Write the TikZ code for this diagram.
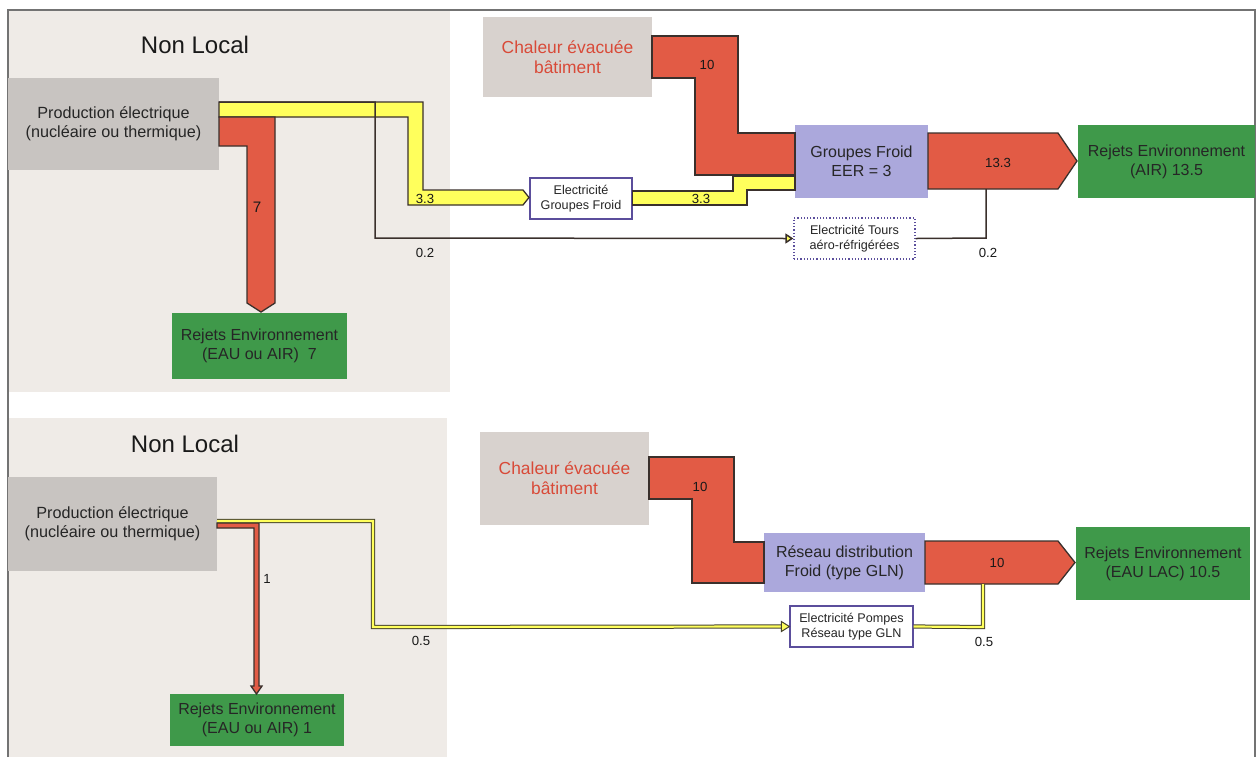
\documentclass[tikz,border=0pt]{standalone}
\usepackage{fontspec}
\setmainfont{Liberation Sans}
\usetikzlibrary{arrows.meta}

\definecolor{panelbg}{HTML}{EFEBE7}
\definecolor{prodgrey}{HTML}{C8C4C1}
\definecolor{chalgrey}{HTML}{D8D2CE}
\definecolor{flowred}{HTML}{E25B45}
\definecolor{flowyellow}{HTML}{FFFF5C}
\definecolor{coolpurple}{HTML}{ABA8DC}
\definecolor{rejgreen}{HTML}{3F994A}
\definecolor{edgedark}{HTML}{3A302C}
\definecolor{chaltext}{HTML}{D84A38}
\definecolor{boxline}{HTML}{5B4E9C}

\begin{document}
\begin{tikzpicture}[x=0.5pt, y=-0.5pt,
  box/.style={inner sep=0pt, align=center, text=black!85},
  prodbox/.style={box, fill=prodgrey, font=\fontsize{8.1}{9.5}\selectfont},
  chalbox/.style={box, fill=chalgrey, text=chaltext, font=\fontsize{8.7}{10}\selectfont},
  coolbox/.style={box, fill=coolpurple, font=\fontsize{8}{9.5}\selectfont},
  rejbox/.style={box, fill=rejgreen, font=\fontsize{8}{9.5}\selectfont},
  elecbox/.style={box, fill=white, draw=boxline, line width=0.6pt, font=\fontsize{6.3}{7.3}\selectfont},
  title/.style={font=\fontsize{12}{14}\selectfont, text=black!90},
  val/.style={font=\fontsize{6.6}{8}\selectfont, text=black!90},
  redflow/.style={fill=flowred, draw=edgedark, line width=0.65pt, line join=miter},
  yelflow/.style={fill=flowyellow, draw=edgedark, line width=0.65pt, line join=miter},
  tourline/.style={draw=edgedark, line width=0.75pt, -{Triangle[fill=flowyellow, length=4pt, width=5pt]}},
  pompline/.style={draw=black!65!olive, double=flowyellow, double distance=1.1pt, line width=0.5pt},
]
  \useasboundingbox (0,0) rectangle (1257,757);
  \fill[white] (0,0) rectangle (1257,757);

  % Panels and frame
  \fill[panelbg] (8,10) rectangle (450,392);
  \fill[panelbg] (8,418) rectangle (447,757);
  \draw[black!55, line width=0.6pt] (8,757) -- (8,10) -- (1255,10) -- (1255,757);

  % ---- Top: Groupes Froid ----
  \node[title] (nl1) at (195,45) {Non Local};
  \node[prodbox, minimum width=105.5pt, minimum height=46pt] (prod1) at (113.5,124)
    {Production électrique\\(nucléaire ou thermique)};
  \node[chalbox, minimum width=84.5pt, minimum height=40pt] (chal1) at (567.5,57)
    {Chaleur évacuée\\bâtiment};
  \node[coolbox, minimum width=66.5pt, minimum height=36.5pt] (gf) at (861.5,161.5)
    {Groupes Froid\\EER = 3};
  \node[rejbox, minimum width=88.5pt, minimum height=36.5pt] (rejair) at (1166.5,161.5)
    {Rejets Environnement\\(AIR) 13.5};
  \node[rejbox, minimum width=87.5pt, minimum height=33pt] (rejeau1) at (259.5,346)
    {Rejets Environnement\\(EAU ou AIR)\ \ 7};
  \node[elecbox, minimum width=51pt, minimum height=20.5pt] (egf) at (581,198.5)
    {Electricité\\Groupes Froid};
  \node[elecbox, densely dotted, minimum width=60.5pt, minimum height=20.5pt] (etours) at (854.5,238.5)
    {Electricité Tours\\aéro-réfrigérées};

  % flows
  \draw[yelflow] (219,102) -- (423,102) -- (423,190) -- (523,190) -- (529,197.5)
    -- (523,205) -- (408,205) -- (408,117) -- (219,117) -- cycle;
  \draw[redflow] (219,117) -- (275,117) -- (275,303) -- (261,312) -- (247,303)
    -- (247,146) -- (219,146) -- cycle;
  \draw[tourline] (219,102) -- (375,102) -- (375,238) -- (etours.west);
  \draw[yelflow] (egf.east |- 0,191) -- (733,191) -- (733,176) -- (795,176)
    -- (795,190) -- (747,190) -- (747,205) -- (egf.east |- 0,205) -- cycle;
  \draw[redflow] (652,36) -- (738,36) -- (738,133) -- (795,133) -- (795,175)
    -- (695,175) -- (695,78) -- (652,78) -- cycle;
  \draw[redflow] (928,133) -- (1058,133) -- (1077,161) -- (1058,189) -- (928,189) -- cycle;
  \draw[draw=edgedark, line width=0.75pt] (etours.east) -- (986,238) -- (986,189);

  \node[val, font=\fontsize{7.6}{9}\selectfont] (v7) at (257,207) {7};
  \node[val] (v33a) at (425,199) {3.3};
  \node[val] (v33b) at (701,199) {3.3};
  \node[val] (v02a) at (425,253) {0.2};
  \node[val] (v10a) at (707,65) {10};
  \node[val] (v133) at (998,163) {13.3};
  \node[val] (v02b) at (988,253) {0.2};

  % ---- Bottom: Reseau GLN ----
  \node[title] (nl2) at (185,444) {Non Local};
  \node[prodbox, minimum width=104.5pt, minimum height=47pt] (prod2) at (112.5,524)
    {Production électrique\\(nucléaire ou thermique)};
  \node[chalbox, minimum width=84.5pt, minimum height=46.5pt] (chal2) at (564.5,478.5)
    {Chaleur évacuée\\bâtiment};
  \node[coolbox, minimum width=80.5pt, minimum height=29.5pt] (rdf) at (844.5,562.5)
    {Réseau distribution\\Froid (type GLN)};
  \node[rejbox, minimum width=87pt, minimum height=36.5pt] (rejlac) at (1163,563.5)
    {Rejets Environnement\\(EAU LAC) 10.5};
  \node[rejbox, minimum width=87pt, minimum height=26pt] (rejeau2) at (257,720)
    {Rejets Environnement\\(EAU ou AIR) 1};
  \node[elecbox, minimum width=61.5pt, minimum height=20.5pt] (epomp) at (851.5,626.5)
    {Electricité Pompes\\Réseau type GLN};

  % flows
  \draw[redflow] (217,523) -- (259,523) -- (259,686) -- (262,686) -- (256.5,694)
    -- (251,686) -- (254,686) -- (254,528) -- (217,528) -- cycle;
  \draw[pompline] (217,521) -- (373,521) -- (373,627) -- ([xshift=-4pt]epomp.west);
  \draw[draw=black!65!olive, fill=flowyellow, line width=0.5pt]
    ([xshift=-4pt,yshift=2.5pt]epomp.west) -- (epomp.west) -- ([xshift=-4pt,yshift=-2.5pt]epomp.west) -- cycle;
  \draw[redflow] (649,457) -- (734,457) -- (734,542) -- (764,542) -- (764,583)
    -- (692,583) -- (692,499) -- (649,499) -- cycle;
  \draw[redflow] (925,541) -- (1058,541) -- (1075,562.5) -- (1058,584) -- (925,584) -- cycle;
  \draw[pompline] (epomp.east) -- (983,627) -- (983,584);

  \node[val] (v1) at (267,579) {1};
  \node[val] (v05a) at (421,641) {0.5};
  \node[val] (v10b) at (700,487) {10};
  \node[val] (v10c) at (997,563) {10};
  \node[val] (v05b) at (984,642) {0.5};
\end{tikzpicture}
\end{document}
